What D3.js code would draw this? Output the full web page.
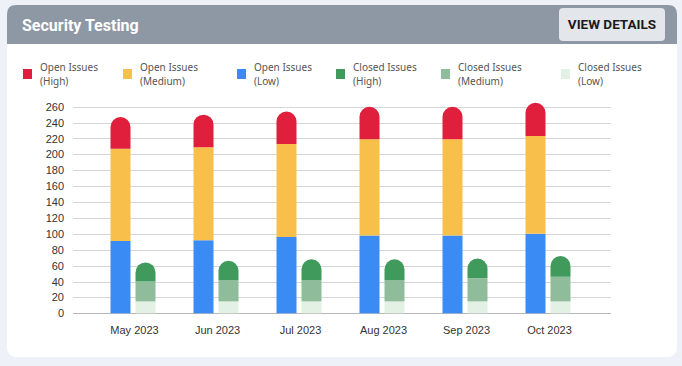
<!DOCTYPE html>
<html>
<head>
<meta charset="utf-8">
<script src="https://cdn.jsdelivr.net/npm/d3@7"></script>
<style>
  html, body { margin: 0; padding: 0; background: #eff1f9; }
  svg { display: block; }
</style>
</head>
<body>
<div id="chart"></div>
<script>
// data
var months = ["May 2023", "Jun 2023", "Jul 2023", "Aug 2023", "Sep 2023", "Oct 2023"];
var openLow = [91, 92, 96, 98, 98, 100];
var openMedium = [116, 117, 117, 121, 121, 123];
var openHigh = [40, 41, 41, 41, 41, 42];
var closedLow = [15, 15, 15, 15, 15, 15];
var closedMedium = [25, 27, 27, 27, 29, 31];
var closedHigh = [24, 24, 26, 26, 25, 26];
var yTicks = [0, 20, 40, 60, 80, 100, 120, 140, 160, 180, 200, 220, 240, 260];

var series = [
  { name: ["Open Issues", "(High)"], stack: "open", values: openHigh, color: "#e01f3d", order: 2 },
  { name: ["Open Issues", "(Medium)"], stack: "open", values: openMedium, color: "#f8bf4a", order: 1 },
  { name: ["Open Issues", "(Low)"], stack: "open", values: openLow, color: "#3a8bf3", order: 0 },
  { name: ["Closed Issues", "(High)"], stack: "closed", values: closedHigh, color: "#3f9a5c", order: 2 },
  { name: ["Closed Issues", "(Medium)"], stack: "closed", values: closedMedium, color: "#8fbc9b", order: 1 },
  { name: ["Closed Issues", "(Low)"], stack: "closed", values: closedLow, color: "#e3f1e4", order: 0 }
];

var width = 682, height = 366;
var svg = d3.select("#chart").append("svg").attr("width", width).attr("height", height);

// card
svg.append("rect").attr("x", 7).attr("y", 5).attr("width", 670).attr("height", 352)
  .attr("rx", 9).attr("fill", "#ffffff");
svg.append("path")
  .attr("d", "M7,44 L7,14 Q7,5 16,5 L668,5 Q677,5 677,14 L677,44 Z")
  .attr("fill", "#8e98a4");
svg.append("text").attr("x", 22).attr("y", 31)
  .attr("font-family", "Roboto, sans-serif").attr("font-weight", 700).attr("font-size", 16)
  .attr("fill", "#ffffff").text("Security Testing");
svg.append("rect").attr("x", 559).attr("y", 8).attr("width", 106).attr("height", 33)
  .attr("rx", 4).attr("fill", "#e3e6ea");
svg.append("text").attr("x", 612).attr("y", 29).attr("text-anchor", "middle")
  .attr("font-family", "Roboto, sans-serif").attr("font-weight", 700).attr("font-size", 13.5)
  .attr("fill", "#1b1b1b").text("VIEW DETAILS");

// legend
var legendX = [23, 123, 237, 336, 441, 561];
var legend = svg.append("g").selectAll("g").data(series).enter().append("g")
  .attr("transform", function (d, i) { return "translate(" + legendX[i] + ",69)"; });
legend.append("rect").attr("width", 9).attr("height", 10).attr("fill", function (d) { return d.color; });
legend.append("text").attr("x", 17).attr("y", 2)
  .attr("font-family", "'Noto Sans', sans-serif").attr("font-size", 10).attr("fill", "#555")
  .selectAll("tspan").data(function (d) { return d.name; }).enter().append("tspan")
  .attr("x", 17).attr("dy", function (d, i) { return i === 0 ? 0 : 14; }).text(function (d) { return d; });

// scales
var y = d3.scaleLinear().domain([0, 260]).range([313.3, 106.7]);
var x = d3.scaleBand().domain(months).range([93, 591]);
var x1 = d3.scaleBand().domain(["open", "closed"])
  .range([x.bandwidth() / 2 - 24, x.bandwidth() / 2 + 21]).paddingInner(0.2);

// grid
var grid = svg.append("g");
grid.selectAll("line").data(yTicks).enter().append("line")
  .attr("x1", 73).attr("x2", 611)
  .attr("y1", function (d) { return Math.round(y(d)) + 0.5; })
  .attr("y2", function (d) { return Math.round(y(d)) + 0.5; })
  .attr("stroke", function (d) { return d === 0 ? "#b8b8b8" : "#d6d6d6"; })
  .attr("stroke-width", 1);

var yAxis = svg.append("g").attr("transform", "translate(64,0)")
  .call(d3.axisLeft(y).tickValues(yTicks).tickSize(0).tickPadding(0));
yAxis.select(".domain").remove();
yAxis.selectAll("text").attr("font-family", "'Liberation Sans', Arial, sans-serif")
  .attr("font-size", 11).attr("fill", "#333");

var xAxis = svg.append("g").attr("transform", "translate(0,313)")
  .call(d3.axisBottom(x).tickSize(0).tickPadding(13));
xAxis.select(".domain").remove();
xAxis.selectAll("text").attr("font-family", "'Liberation Sans', Arial, sans-serif")
  .attr("font-size", 11).attr("fill", "#333");

// stacks
function topRounded(x0, y0, w, h, r) {
  r = Math.min(r, h, w / 2);
  return "M" + x0 + "," + (y0 + h) +
    "L" + x0 + "," + (y0 + r) +
    "A" + r + "," + r + " 0 0 1 " + (x0 + r) + "," + y0 +
    "L" + (x0 + w - r) + "," + y0 +
    "A" + r + "," + r + " 0 0 1 " + (x0 + w) + "," + (y0 + r) +
    "L" + (x0 + w) + "," + (y0 + h) + "Z";
}

var segs = [];
["open", "closed"].forEach(function (stack) {
  var ss = series.filter(function (s) { return s.stack === stack; })
    .sort(function (a, b) { return a.order - b.order; });
  months.forEach(function (m, i) {
    var base = 0;
    ss.forEach(function (s, k) {
      segs.push({ month: m, stack: stack, y0: base, y1: base + s.values[i], color: s.color, top: k === ss.length - 1 });
      base += s.values[i];
    });
  });
});

var bw = x1.bandwidth();
svg.append("g").selectAll("path").data(segs).enter().append("path")
  .attr("fill", function (d) { return d.color; })
  .attr("d", function (d) {
    var x0 = x(d.month) + x1(d.stack);
    var yt = y(d.y1), h = y(d.y0) - y(d.y1);
    if (d.top) return topRounded(x0, yt, bw, h, bw / 2);
    return "M" + x0 + "," + yt + "h" + bw + "v" + h + "h" + (-bw) + "Z";
  });
</script>
</body>
</html>
